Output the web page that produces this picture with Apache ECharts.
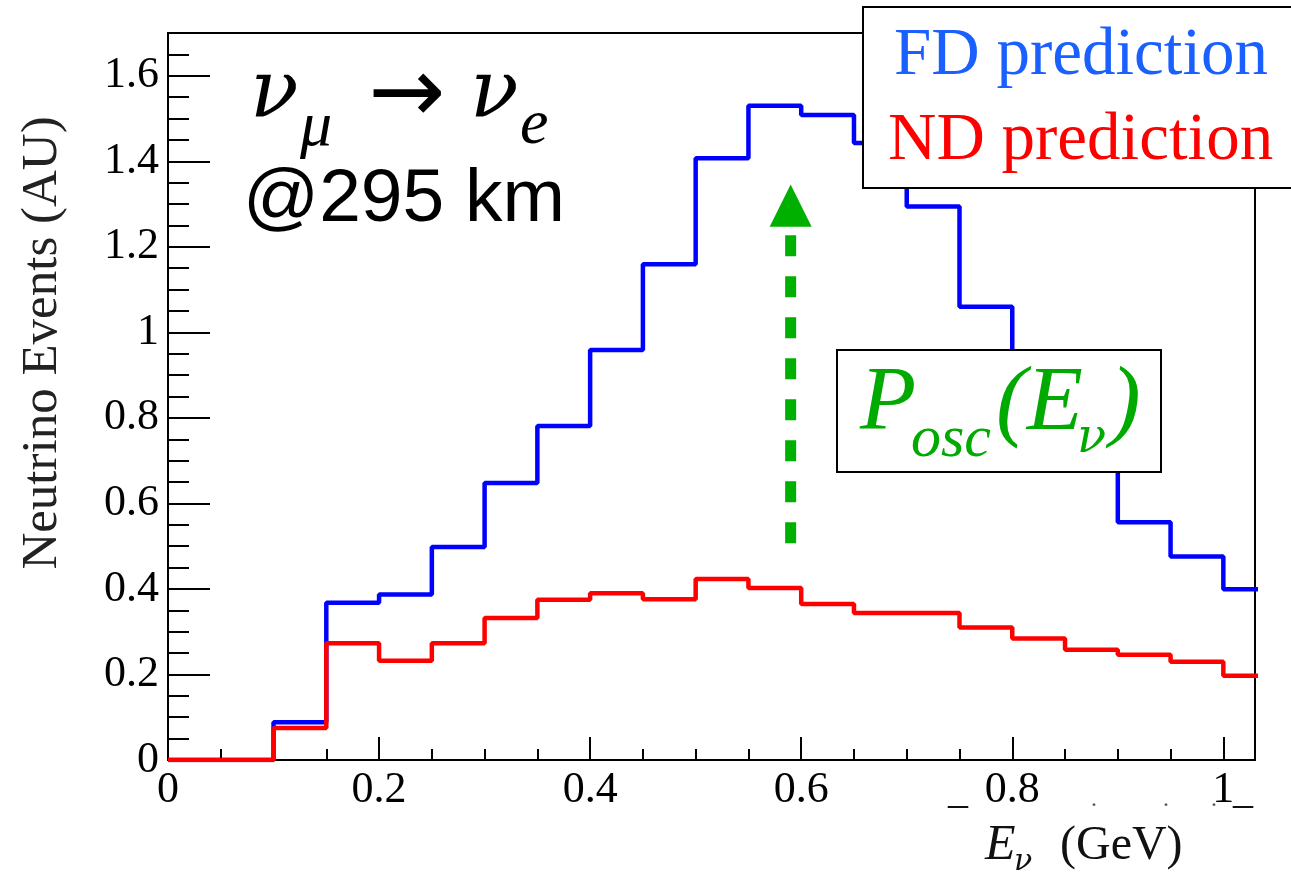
<!DOCTYPE html>
<html><head><meta charset="utf-8">
<script src="https://cdn.jsdelivr.net/npm/echarts@6/dist/echarts.min.js"></script>
<style>html,body{margin:0;padding:0;background:#fff}#c{width:1291px;height:877px}</style>
</head><body><div id="c"></div>
<script>
// ---- data (bin edges in GeV, predicted events in AU) ----
const binEdges = [0,0.05,0.10,0.15,0.20,0.25,0.30,0.35,0.40,0.45,0.50,0.55,0.60,0.65,0.70,0.75,0.80,0.85,0.90,0.95,1.00,1.05];
const fdValues = [0,0,0.088,0.368,0.387,0.498,0.648,0.781,0.959,1.159,1.407,1.530,1.508,1.443,1.294,1.060,0.870,0.700,0.556,0.476,0.399];
const ndValues = [0,0,0.075,0.273,0.232,0.273,0.332,0.375,0.390,0.376,0.423,0.402,0.365,0.344,0.344,0.310,0.284,0.258,0.246,0.230,0.197];
const xTickLabels = ['0','0.2','0.4','0.6','0.8','1'];
const yTickLabels = ['0','0.2','0.4','0.6','0.8','1','1.2','1.4','1.6'];
const legendNames = ['FD prediction','ND prediction'];
// oscillation arrow (E in GeV, from/to in AU)
const arrowX = 0.59, arrowFrom = 0.507, arrowTo = 1.247, arrowTip = 1.346;

function stepData(vals){
  const out = [];
  for (let i = 0; i < vals.length; i++){ out.push([binEdges[i], vals[i]]); out.push([binEdges[i+1], vals[i]]); }
  return out;
}
function fmtFrom(labels, step){
  return function(v){
    const k = Math.round(v / step);
    if (Math.abs(v - k*step) > 1e-6) return '';
    return labels[k] !== undefined ? labels[k] : '';
  };
}

const SERIF = 'Liberation Serif';
const chart = echarts.init(document.getElementById('c'), null, {renderer:'canvas'});
const tickStyle = {color:'#000', width:2};
chart.setOption({
  animation:false,
  backgroundColor:'#fff',
  grid:{left:168, right:36, top:33, bottom:117, show:true, borderColor:'#000', borderWidth:2, containLabel:false, outerBoundsMode:'none'},
  xAxis:[
    {type:'value', min:0, max:1.03, interval:0.2,
     axisLine:{show:true, onZero:false, lineStyle:{color:'#000', width:2}},
     axisTick:{show:true, inside:true, length:23, lineStyle:tickStyle},
     splitLine:{show:false},
     axisLabel:{fontFamily:SERIF, fontSize:44, color:'#000', margin:8, formatter:fmtFrom(xTickLabels,0.2)}},
    {type:'value', min:0, max:1.03, interval:0.05, position:'bottom',
     axisLine:{show:false}, axisTick:{show:true, inside:true, length:11, lineStyle:tickStyle},
     splitLine:{show:false}, axisLabel:{show:false}}
  ],
  yAxis:[
    {type:'value', min:0, max:1.7, interval:0.2,
     axisLine:{show:true, onZero:false, lineStyle:{color:'#000', width:2}},
     axisTick:{show:true, inside:true, length:42, lineStyle:tickStyle},
     splitLine:{show:false},
     axisLabel:{fontFamily:SERIF, fontSize:44, color:'#000', margin:9, formatter:fmtFrom(yTickLabels,0.2)}},
    {type:'value', min:0, max:1.7, interval:0.05, position:'left',
     axisLine:{show:false}, axisTick:{show:true, inside:true, length:21, lineStyle:tickStyle},
     splitLine:{show:false}, axisLabel:{show:false}}
  ],
  series:[
    {name:legendNames[0], type:'line', data:stepData(fdValues), showSymbol:false, clip:true, z:3,
     lineStyle:{color:'#0000ff', width:4.5}, itemStyle:{color:'#0000ff'}},
    {name:legendNames[1], type:'line', data:stepData(ndValues), showSymbol:false, clip:true, z:4,
     lineStyle:{color:'#ff0000', width:4.5}, itemStyle:{color:'#ff0000'}}
  ]
});

function T(text, x, y, font, fill, align, extra){
  const el = {type:'text', z:110, x:x, y:y,
    style:{text:text, font:font, fill:fill, align:align||'left', verticalAlign:'middle',
           textAlign:align||'left', textVerticalAlign:'middle'}};
  if (extra) Object.assign(el, extra);
  return el;
}
const pFrom = chart.convertToPixel({gridIndex:0}, [arrowX, arrowFrom]);
const pTo = chart.convertToPixel({gridIndex:0}, [arrowX, arrowTo]);
const pTip = chart.convertToPixel({gridIndex:0}, [arrowX, arrowTip]);
const green = '#00aa00';
const NU = 'italic 80px "DejaVu Serif"';
const els = [
  // oscillation arrow
  {type:'line', z:50, shape:{x1:pFrom[0], y1:pFrom[1], x2:pTo[0], y2:pTo[1]+6},
   style:{stroke:'#00b000', lineWidth:11, lineDash:[21,20]}},
  {type:'polygon', z:51, shape:{points:[[pTip[0],pTip[1]],[pTo[0]-21,pTo[1]],[pTo[0]+21,pTo[1]]]},
   style:{fill:'#00b000'}},
  // legend box
  {type:'rect', z:100, shape:{x:863, y:7, width:450, height:181}, style:{fill:'#fff', stroke:'#000', lineWidth:2}},
  T(legendNames[0], 894, 56, 'normal 67px "Liberation Serif"', '#1a60ff'),
  T(legendNames[1], 888, 141, 'normal 67px "Liberation Serif"', '#ff0000'),
  // P_osc box
  {type:'rect', z:100, shape:{x:837, y:350, width:324, height:122}, style:{fill:'#fff', stroke:'#000', lineWidth:2}},
  T('P', 860, 405, 'italic 92px "Liberation Serif"', green),
  T('osc', 911, 440, 'italic 60px "Liberation Serif"', green),
  T('(E', 996, 405, 'italic 92px "Liberation Serif"', green),
  T('ν', 1077, 440, 'italic 48px "DejaVu Serif"', green),
  T(')', 1110, 405, 'italic 92px "Liberation Serif"', green),
  // channel label
  T('ν', 250, 96, NU, '#000'),
  T('μ', 300, 128, 'italic 64px "Liberation Serif"', '#000'),
  T('→', 407, 98, 'normal 92px "DejaVu Sans"', '#000', 'center'),
  T('ν', 470, 96, NU, '#000'),
  T('e', 520, 126, 'italic 64px "Liberation Serif"', '#000'),
  T('@295 km', 243, 200, 'normal 75px "Liberation Sans"', '#000'),
  // y title
  T('Neutrino Events (AU)', 43, 343, 'normal 51px "Liberation Serif"', '#222', 'center', {rotation:Math.PI/2}),
  // x title
  T('E', 985, 846, 'italic 50px "Liberation Serif"', '#111'),
  T('ν', 1014, 862, 'italic 30px "DejaVu Serif"', '#111'),
  T('(GeV)', 1060, 846, 'normal 48px "Liberation Serif"', '#111'),
  // stray marks under axis
  T('_', 948, 792, 'normal 40px "Liberation Serif"', '#111'),
  T('.', 1091, 800, 'normal 24px "Liberation Serif"', '#555'),
  T('.', 1163, 800, 'normal 24px "Liberation Serif"', '#555'),
  T('.', 1211, 800, 'normal 24px "Liberation Serif"', '#555'),
  T('_', 1233, 792, 'normal 40px "Liberation Serif"', '#111')
];
chart.setOption({graphic:{elements:els}});
</script>
</body></html>
